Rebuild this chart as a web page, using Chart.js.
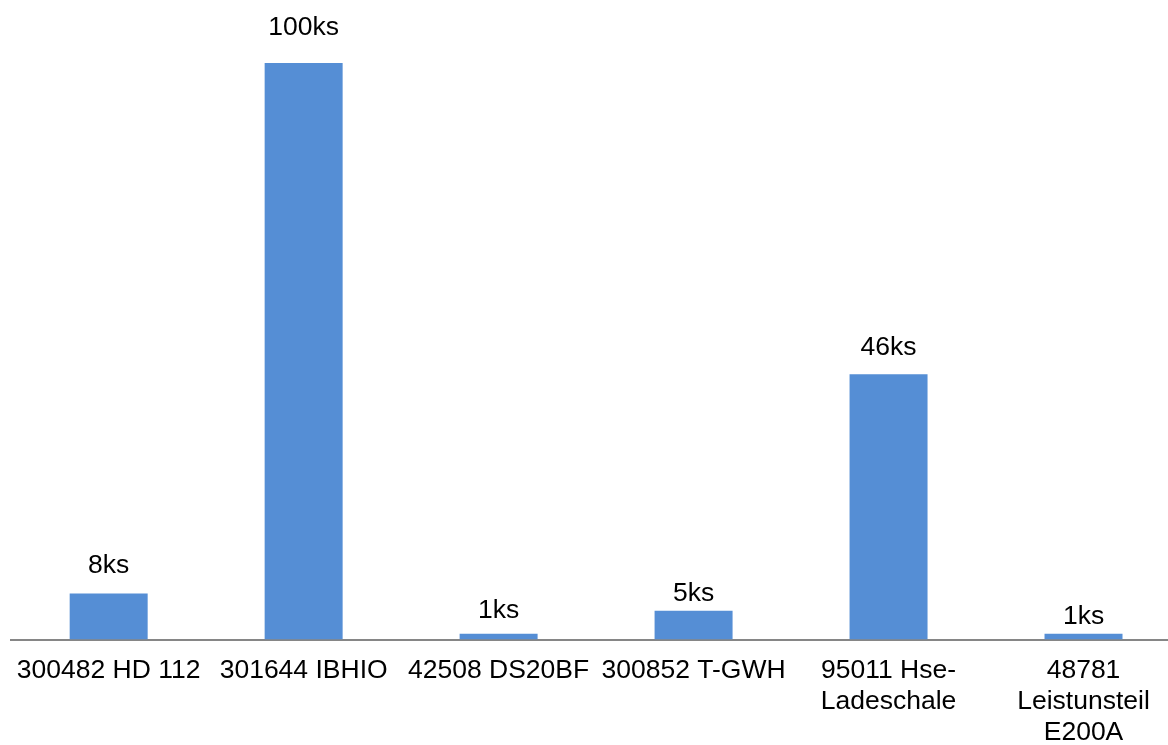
<!DOCTYPE html>
<html>
<head>
<meta charset="utf-8">
<title>Počet kusů podle položky</title>
<script src="https://cdn.jsdelivr.net/npm/chart.js@4.4.1/dist/chart.umd.min.js"></script>
<style>
  html, body { margin: 0; padding: 0; background: #fff; overflow: hidden; }
  #wrap { width: 1181px; height: 745px; }
</style>
</head>
<body>
<div id="wrap"><canvas id="chart" width="1181" height="745"></canvas></div>
<script>
// Items (multi-line names are split into rows)
const categories = [
  '300482 HD 112',
  '301644 IBHIO',
  '42508 DS20BF',
  '300852 T-GWH',
  ['95011 Hse-', 'Ladeschale'],
  ['48781', 'Leistunsteil', 'E200A']
];
// Quantity in pieces
const quantities = [8, 100, 1, 5, 46, 1];
const unitSuffix = 'ks';

const FONT = '"Liberation Sans", Arial, sans-serif';
const FONT_SIZE = 26.5;

// Writes "<value>ks" above each bar; lift = distance from bar top to text baseline
const valueLabels = {
  id: 'valueLabels',
  afterDatasetsDraw(chart, args, opts) {
    const ctx = chart.ctx;
    const meta = chart.getDatasetMeta(0);
    const values = chart.data.datasets[0].data;
    ctx.save();
    ctx.font = FONT_SIZE + 'px ' + FONT;
    ctx.fillStyle = '#000';
    ctx.textAlign = 'center';
    ctx.textBaseline = 'alphabetic';
    meta.data.forEach((bar, i) => {
      const lift = opts.lift[i] ?? 18;
      ctx.fillText(values[i] + unitSuffix, bar.x, bar.y - lift);
    });
    ctx.restore();
  }
};

new Chart(document.getElementById('chart'), {
  type: 'bar',
  data: {
    labels: categories,
    datasets: [{
      data: quantities,
      backgroundColor: '#558ed5',
      borderWidth: 0,
      barPercentage: 0.4,
      categoryPercentage: 1.0
    }]
  },
  options: {
    responsive: false,
    animation: false,
    layout: { padding: { top: 63, left: 10, right: 0, bottom: 0 } },
    plugins: {
      legend: { display: false },
      tooltip: { enabled: false },
      valueLabels: { lift: [20, 28, 16, 10, 19, 10] }
    },
    scales: {
      x: {
        grid: { display: false, drawTicks: false },
        border: { display: true, color: '#868686', width: 2 },
        ticks: {
          color: '#000',
          font: { family: FONT, size: FONT_SIZE, lineHeight: 1.17 },
          padding: 16,
          maxRotation: 0,
          autoSkip: false
        },
        afterFit(scale) { scale.height = 105.5; }
      },
      y: {
        display: false,
        min: 0,
        max: 100
      }
    }
  },
  plugins: [valueLabels]
});
</script>
</body>
</html>
